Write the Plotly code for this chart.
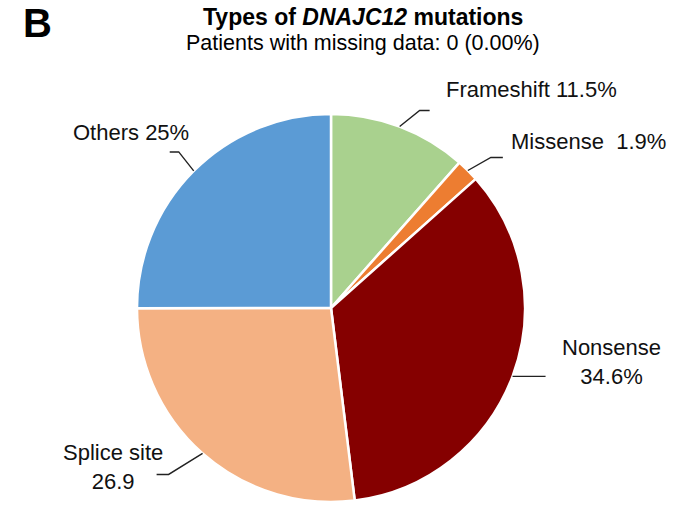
import math
import plotly.graph_objects as go

# ---- data ----
categories = ["Frameshift", "Missense", "Nonsense", "Splice site", "Others"]
values = [11.5, 1.9, 34.6, 26.9, 25.0]
label_texts = ["Frameshift 11.5%", "Missense  1.9%", "Nonsense<br>34.6%", "Splice site<br>26.9", "Others 25%"]
colors = ["#A9D18E", "#ED7D31", "#850000", "#F4B183", "#5B9BD5"]

W, H = 677, 514
CX, CY, R = 331, 308, 194  # pie geometry in pixels (top-left origin)

def px(x):
    return x / W

def py(y):
    return 1 - y / H

fig = go.Figure(go.Pie(
    labels=categories,
    values=values,
    sort=False,
    direction="clockwise",
    rotation=0,
    marker=dict(colors=colors, line=dict(color="white", width=2.5)),
    textinfo="none",
    hoverinfo="label+percent",
    showlegend=False,
    domain=dict(x=[px(CX - R), px(CX + R)], y=[py(CY + R), py(CY - R)]),
))

# leader-line elbow offsets (dx1, dy1, dx2) and label placement (x, y, anchor)
leader_style = [
    (20, -16, 10),
    (23, -13, 12),
    (0, 0, 33),
    (-34, 21, -12),
    (-15, -19, -9),
]
label_pos = [
    (444, 89, "left"),
    (509, 141, "left"),
    (611, 362, "center"),
    (113, 467, "center"),
    (71, 132, "left"),
]

total = sum(values)
cum = 0.0
shapes = []
annotations = []
for i, v in enumerate(values):
    mid = (cum + v / 2) / total * 2 * math.pi
    cum += v
    x0 = CX + R * math.sin(mid)
    y0 = CY - R * math.cos(mid)
    dx1, dy1, dx2 = leader_style[i]
    x1, y1 = x0 + dx1, y0 + dy1
    x2 = x1 + dx2
    path = f"M {px(x0)},{py(y0)} L {px(x1)},{py(y1)} L {px(x2)},{py(y1)}"
    shapes.append(dict(type="path", path=path, xref="paper", yref="paper",
                       line=dict(color="#222222", width=1.4)))
    lx, ly, anc = label_pos[i]
    annotations.append(dict(
        text=label_texts[i], x=px(lx), y=py(ly), xref="paper", yref="paper",
        xanchor=anc, yanchor="middle", align="center", showarrow=False,
        font=dict(family="Liberation Sans, Arial", size=22, color="#111111"),
    ))

annotations += [
    dict(text="<b>B</b>", x=px(37.5), y=py(23), xref="paper", yref="paper",
         xanchor="center", yanchor="middle", showarrow=False,
         font=dict(family="Liberation Sans, Arial", size=40, color="black")),
    dict(text="<b>Types of <i>DNAJC12</i> mutations</b>", x=px(363), y=py(17),
         xref="paper", yref="paper", xanchor="center", yanchor="middle", showarrow=False,
         font=dict(family="Liberation Sans, Arial", size=23, color="black")),
    dict(text="Patients with missing data: 0 (0.00%)", x=px(363), y=py(43),
         xref="paper", yref="paper", xanchor="center", yanchor="middle", showarrow=False,
         font=dict(family="Liberation Sans, Arial", size=21.5, color="black")),
]

fig.update_layout(
    width=W, height=H,
    margin=dict(l=0, r=0, t=0, b=0),
    paper_bgcolor="white", plot_bgcolor="white",
    shapes=shapes, annotations=annotations,
)

fig.write_html("out.html", config={"displayModeBar": False},
               post_script="document.body.style.margin='0';")
